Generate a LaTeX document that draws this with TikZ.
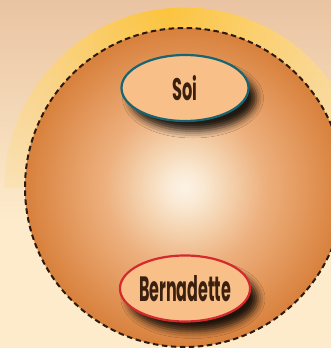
\documentclass[tikz,border=0pt]{standalone}
\usepackage{fontspec}
\newfontfamily\labelfont{Poppins}
\usetikzlibrary{shapes.geometric,shadows.blur,fadings}
\definecolor{bgtop}{HTML}{EAC4A2}
\definecolor{bgbot}{HTML}{FDEBCB}
\definecolor{glowmid}{HTML}{FDC43A}
\definecolor{glowside}{HTML}{FEDC8E}
\definecolor{ballc0}{HTML}{FCF3E6}
\definecolor{ballc1}{HTML}{FAE8D2}
\definecolor{ballc2}{HTML}{F5D6B4}
\definecolor{ballc3}{HTML}{EDB07E}
\definecolor{ballc4}{HTML}{E3985C}
\definecolor{ballc5}{HTML}{D8803C}
\definecolor{dashc}{HTML}{2A1A10}
\definecolor{ovalfill}{HTML}{F9BF88}
\definecolor{tealc}{HTML}{176473}
\definecolor{redc}{HTML}{D42A2E}
\definecolor{txtc}{HTML}{3B1F0F}
\pgfdeclareradialshading{ballshade}{\pgfpoint{0bp}{0bp}}{color(0bp)=(ballc0); color(3bp)=(ballc1); color(6.25bp)=(ballc2); color(12.5bp)=(ballc3); color(18.75bp)=(ballc4); color(25bp)=(ballc5); color(50bp)=(ballc5)}
\tikzfading[name=glowfade, top color=transparent!0, middle color=transparent!10, bottom color=transparent!75]
\newcommand{\ovaltext}[3]{\resizebox{#1}{#2}{\labelfont\bfseries #3}}
\tikzset{
  oval/.style={ellipse, minimum width=127pt, minimum height=66pt, inner sep=0pt,
    fill=ovalfill, line width=2.2pt, text=txtc,
    blur shadow={shadow xshift=8pt, shadow yshift=-10pt, shadow blur radius=7pt,
      shadow opacity=85}},
  ball/.style={circle, minimum size=319pt, inner sep=0pt, shading=ballshade,
    draw=dashc, line width=2pt, dash pattern=on 5.5pt off 3.5pt}
}
\begin{document}
\begin{tikzpicture}[x=1pt,y=-1pt]
\useasboundingbox (0,0) rectangle (331,348);
\shade[top color=bgtop, bottom color=bgbot] (0,0) rectangle (331,220);
\fill[bgbot] (0,219.5) rectangle (331,348);
\begin{scope}
  \clip (184.5,187.5) circle[radius=180];
  \shade[left color=glowside, right color=glowside, middle color=glowmid, path fading=glowfade] (0,0) rectangle (331,188);
\end{scope}
\begin{scope}
  \clip (0,0) rectangle (331,348);
  \node[ball] (sphere) at (184.5,187.5) {};
\end{scope}
\node[oval, draw=tealc] (soi) at (185,88) {\ovaltext{25pt}{25pt}{Soi}};
\node[oval, draw=redc] (bern) at (185,288.5) {\ovaltext{92pt}{26pt}{Bernadette}};
\end{tikzpicture}
\end{document}
